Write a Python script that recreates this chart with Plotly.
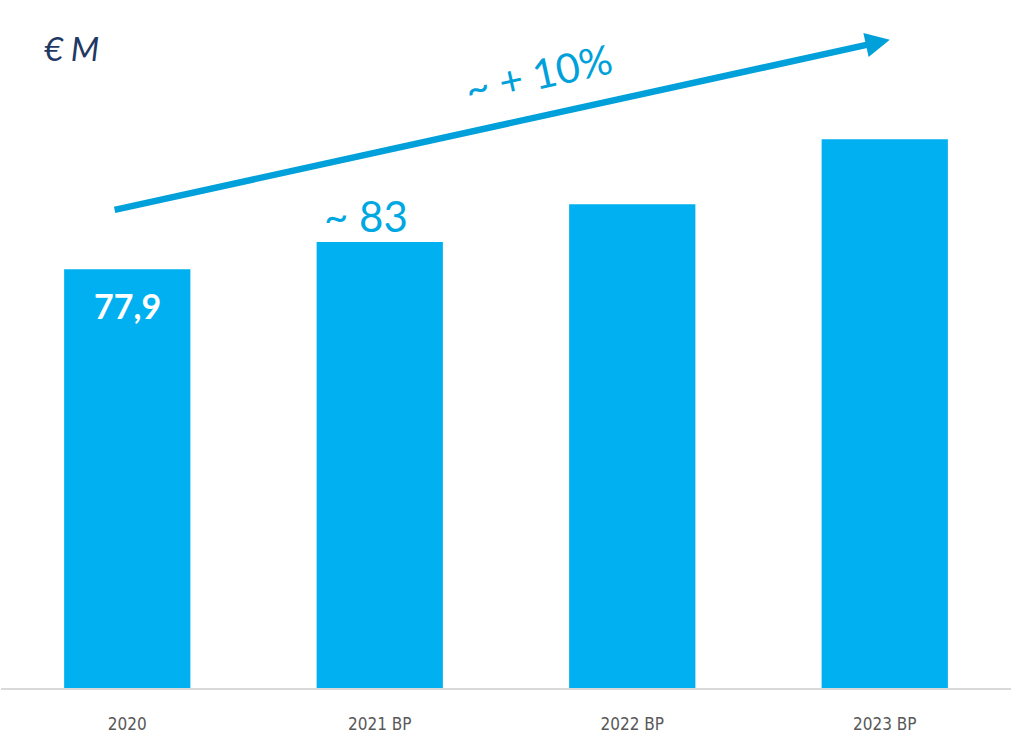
import plotly.graph_objects as go

# Revenue by year (EUR millions)
categories = ["2020", "2021 BP", "2022 BP", "2023 BP"]
values = [77.9, 83, 90, 102.1]
value_labels = ["77,9", "~ 83"]

BAR = "#00b0f0"
ARROW = "#00a1da"

fig = go.Figure()
fig.add_trace(go.Bar(
    x=categories, y=values,
    marker=dict(color=BAR, line=dict(width=0)),
    hoverinfo="skip",
))

annotations = [
    # value inside the first bar
    dict(x=0, y=values[0], xref="x", yref="y", yshift=-36,
         xanchor="center", yanchor="middle",
         text=f"<b>{value_labels[0]}</b>", showarrow=False,
         font=dict(family="Lato", size=34, color="white")),
    # value above the second bar
    dict(x=1, y=values[1], xref="x", yref="y", yshift=26, xshift=-14,
         xanchor="center", yanchor="middle",
         text=value_labels[1], showarrow=False,
         font=dict(family="Lato", size=42, color="#00a8e2")),
    # unit label
    dict(x=0.07, y=0.93, xref="paper", yref="paper",
         xanchor="center", yanchor="middle",
         text="<i>€ M</i>", showarrow=False,
         font=dict(family="Lato", size=33, color="#1f3864")),
    # growth arrow
    dict(x=3.02, y=120.6, xref="x", yref="y",
         ax=-0.056, ay=88.9, axref="x", ayref="y",
         text="", showarrow=True, arrowhead=2, arrowsize=0.75,
         arrowwidth=6.5, arrowcolor=ARROW),
    # growth label
    dict(x=1.63, y=114.3, xref="x", yref="y",
         xanchor="center", yanchor="middle",
         text="~ + 10%", showarrow=False, textangle=-12.3,
         font=dict(family="Lato", size=41, color=ARROW)),
]

fig.update_layout(
    width=1025, height=743,
    margin=dict(l=1, r=14, t=0, b=55),
    plot_bgcolor="white", paper_bgcolor="white",
    bargap=0.5, showlegend=False,
    annotations=annotations,
    xaxis=dict(
        range=[-0.5, 3.5], showgrid=False, zeroline=False,
        showline=True, linecolor="#d9d9d9", linewidth=2,
        ticks="", ticklabelstandoff=20,
        tickfont=dict(family="DejaVu Sans Condensed, Liberation Sans", size=17, color="#595959"),
    ),
    yaxis=dict(range=[0, 128], visible=False),
)

fig.write_html("out.html")
